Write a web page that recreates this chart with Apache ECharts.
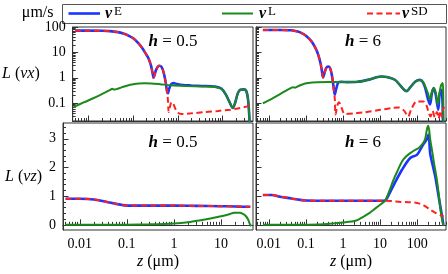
<!DOCTYPE html>
<html><head><meta charset="utf-8">
<script src="https://cdn.jsdelivr.net/npm/echarts@6/dist/echarts.min.js"></script>
<style>html,body{margin:0;padding:0;background:#fff}#c{width:448px;height:274px}</style>
</head><body><div id="c"></div>
<script>
// ---------- tick labels ----------
const xTicksLeft = [0.01, 0.1, 1, 10];
const xTicksRight = [0.01, 0.1, 1, 10, 100];
const yTicksTop = [0.1, 1, 10, 100];
const yTicksBottom = [0, 1, 2, 3];
const panelLabels = ['0.5', '6', '0.5', '6'];
const legendNames = ['E', 'L', 'SD'];

// ---------- top-left: L(vx), h = 0.5 ----------
const tl_z_E = [0.005,0.01,0.02,0.03,0.045,0.06,0.08,0.1,0.13,0.16,0.19,0.22,0.25,0.27,0.285,0.3,0.33,0.38,0.43,0.48,0.53,0.57,0.6,0.63,0.7,0.8,0.95,1.3,2,3.5,6.8,9.5,12,14,17,19,22,25,30,34,37,39,41];
const tl_E   = [72,72,71,69,63,55,45,36,23,14.5,9,5.8,3,1.6,1.0,1.3,2.2,3.0,2.7,1.6,0.7,0.3,0.25,0.35,0.55,0.62,0.57,0.52,0.5,0.48,0.45,0.37,0.21,0.12,0.065,0.1,0.25,0.34,0.35,0.3,0.15,0.05,0.01];
const tl_z_L = [0.0046,0.008,0.012,0.018,0.025,0.03,0.034,0.037,0.042,0.055,0.075,0.1,0.135,0.18,0.25,0.4,0.7,1.5,3.5,6.8,9.5,12,14,17,19,22,25,30,34,37,39,41];
const tl_L   = [0.071,0.11,0.15,0.21,0.28,0.33,0.37,0.345,0.36,0.42,0.5,0.56,0.6,0.61,0.6,0.56,0.51,0.48,0.46,0.44,0.37,0.21,0.12,0.065,0.1,0.25,0.34,0.35,0.3,0.15,0.05,0.01];
const tl_z_SD = [0.005,0.01,0.02,0.03,0.045,0.06,0.08,0.1,0.13,0.16,0.19,0.22,0.25,0.27,0.285,0.3,0.33,0.38,0.43,0.48,0.53,0.57,0.6,0.62,0.66,0.72,0.78,0.88,1.0,1.2,2,4,8,15,22,30,36,40];
const tl_SD   = [72,72,71,69,63,55,45,36,23,14.5,9,5.8,3,1.6,1.0,1.3,2.2,3.0,2.7,1.6,0.7,0.3,0.12,0.045,0.07,0.11,0.1,0.06,0.042,0.038,0.04,0.045,0.05,0.056,0.062,0.07,0.075,0.09];

// ---------- top-right: L(vx), h = 6 ----------
const tr_z_E = [0.0069,0.01,0.02,0.04,0.06,0.077,0.1,0.143,0.18,0.215,0.25,0.27,0.29,0.31,0.35,0.40,0.45,0.5,0.55,0.6,0.65,0.75,0.9,1.3,2.5,5,8,11,15,25,35,45,52,65,90,120,145,165,195,223,250,280,320,370,400,440,470,490,500];
const tr_E   = [76,76,76,74,66,57,45,26.5,15,8,3.5,1.8,1.03,1.4,2.4,2.8,2.4,1.3,0.5,0.22,0.35,0.66,0.69,0.68,0.7,0.85,1.05,1.12,1.08,0.84,0.5,0.33,0.3,0.42,0.72,0.83,0.65,0.4,0.15,0.09,0.25,0.40,0.2,0.056,0.2,0.34,0.25,0.05,0.01];
const tr_z_L = [0.0069,0.012,0.02,0.03,0.04,0.045,0.05,0.06,0.08,0.115,0.2,0.4,1,2.5,5,8,11,15,25,35,45,52,65,90,120,145,165,195,223,250,280,320,360,400,440,490,505,515];
const tr_L   = [0.10,0.15,0.23,0.32,0.40,0.43,0.41,0.46,0.55,0.62,0.67,0.69,0.68,0.7,0.85,1.05,1.12,1.08,0.84,0.5,0.33,0.3,0.42,0.72,0.83,0.7,0.46,0.25,0.14,0.28,0.40,0.25,0.088,0.25,0.5,0.62,0.2,0.01];
const tr_z_SD = [0.0069,0.01,0.02,0.04,0.06,0.077,0.1,0.143,0.18,0.215,0.25,0.27,0.29,0.31,0.35,0.40,0.45,0.5,0.55,0.6,0.63,0.7,0.78,0.9,1.13,2,3.9,10,21,32,45,57,70,98,148,180,200,230,260,300,340,380,420,460,500,550];
const tr_SD   = [76,76,76,74,66,57,45,26.5,15,8,3.5,1.8,1.03,1.4,2.4,2.8,2.4,1.3,0.5,0.15,0.036,0.08,0.11,0.07,0.038,0.04,0.044,0.055,0.065,0.068,0.05,0.03,0.06,0.118,0.118,0.08,0.048,0.03,0.05,0.028,0.045,0.025,0.05,0.03,0.06,0.07];

// ---------- bottom-left: L(vz), h = 0.5 ----------
const bl_z_E = [0.005,0.01,0.015,0.025,0.04,0.06,0.08,0.1,0.15,0.3,1,3,10,20,30,42];
const bl_E   = [0.91,0.91,0.9,0.86,0.79,0.73,0.69,0.67,0.67,0.67,0.67,0.66,0.65,0.64,0.63,0.63];
const bl_z_L = [0.005,0.03,0.1,0.3,1,2,3.5,6,9.5,15,19,25,30,34,38,40,42,44];
const bl_L   = [0,0.002,0.006,0.02,0.05,0.09,0.15,0.22,0.29,0.37,0.42,0.42,0.37,0.3,0.18,0.08,0.0,-0.05];
const bl_z_SD = [0.005,0.01,0.015,0.025,0.04,0.06,0.08,0.1,0.15,0.3,1,3,10,20,30,42];
const bl_SD   = [0.91,0.91,0.9,0.86,0.79,0.73,0.69,0.67,0.67,0.67,0.67,0.66,0.65,0.64,0.63,0.63];

// ---------- bottom-right: L(vz), h = 6 ----------
const br_z_E = [0.0069,0.012,0.02,0.04,0.07,0.1,0.3,1,5,10,13.6,18,25,39,65,100,145,180,203,224,260,307,380,470,510];
const br_E   = [1.04,1.04,0.98,0.92,0.87,0.85,0.84,0.84,0.84,0.84,0.85,1.1,1.46,1.92,2.33,2.45,2.8,2.97,3.15,2.5,2.1,1.69,0.99,0.29,0.0];
const br_z_L = [0.0069,0.03,0.1,0.3,1,2.3,3.5,5,6.6,10,13.6,18,23,30,39,50,65,85,110,140,165,185,200,224,250,290,340,380,415,460,510];
const br_L   = [0,0.002,0.005,0.02,0.08,0.15,0.28,0.4,0.52,0.7,0.84,1.2,1.57,1.9,2.21,2.38,2.5,2.6,2.68,2.82,3.0,3.35,3.45,3.0,2.62,2.1,1.57,1.1,0.64,0.25,-0.03];
const br_z_SD = [0.0069,0.012,0.02,0.04,0.07,0.1,0.3,1,5,10,13.6,20,36,60,100,150,230,330,480,520];
const br_SD   = [1.04,1.04,0.98,0.92,0.87,0.85,0.84,0.84,0.84,0.84,0.84,0.83,0.80,0.79,0.76,0.68,0.52,0.4,0.31,0.29];

// ---------- styling ----------
const FONT = 'Liberation Serif';
const AX = '#333';
const BLUE = '#1a35ff', GREEN = '#1b8a1b', RED = '#ff2020';
const RED_DASH = [6, 3.5];

const grids = [
  {left:63, top:27, width:190, height:94},
  {left:256, top:27, width:190, height:94},
  {left:63, top:123, width:190, height:107},
  {left:256, top:123, width:190, height:107}
];
const xRanges = [[0.0044,48],[0.0045,600],[0.0044,48],[0.0045,600]];
const yRanges = [[0.02,100],[0.02,100],[-0.18,3.55],[-0.18,3.55]];

function logMinors(min, max){
  const out = [];
  for (let e = -4; e <= 3; e++) for (let k = 2; k <= 9; k++) {
    const v = +(k * Math.pow(10, e)).toPrecision(3);
    if (v >= min && v <= max) out.push(v);
  }
  return out;
}
function linMinors(min, max){
  const out = [];
  for (let i = -5; i <= 20; i++) { const v = +(i/5).toFixed(2); if (i % 5 !== 0 && v >= min && v <= max) out.push(v); }
  return out;
}

const xAxis = [], yAxis = [];
const rich = {i:{fontStyle:'italic', fontFamily:FONT, fontSize:16, color:'#000'}, n:{fontFamily:FONT, fontSize:16, color:'#000'}};
grids.forEach((g, gi) => {
  const isBottom = gi >= 2, isLeft = gi % 2 === 0;
  const [x0, x1] = xRanges[gi], [y0, y1] = yRanges[gi];
  const xMaj = gi % 2 === 0 ? xTicksLeft : xTicksRight;
  xAxis.push({
    type:'log', gridIndex:gi, min:x0, max:x1, position:'bottom',
    axisLine:{show:true, lineStyle:{color:AX, width:1}},
    axisTick:{show:true, inside:true, length:5.5, customValues:xMaj, lineStyle:{color:AX, width:1}},
    axisLabel:{show:isBottom, customValues:xMaj, margin:7, fontFamily:FONT, fontSize:14, color:'#000', formatter:v => String(v)},
    splitLine:{show:false},
    name: isBottom ? '{i|z}{n| (μm)}' : '', nameLocation:'middle', nameGap:24,
    nameTextStyle:{rich, fontFamily:FONT, fontSize:16, color:'#000'}
  });
  xAxis.push({
    type:'log', gridIndex:gi, min:x0, max:x1, position:'bottom',
    axisLine:{show:false},
    axisTick:{show:true, inside:true, length:3, customValues:logMinors(x0, x1), lineStyle:{color:AX, width:1}},
    axisLabel:{show:false}, splitLine:{show:false}
  });
  const yType = isBottom ? 'value' : 'log';
  const yMaj = isBottom ? yTicksBottom : yTicksTop;
  const yMin = isBottom ? linMinors(y0, y1) : logMinors(y0, y1);
  yAxis.push({
    type:yType, gridIndex:gi, min:y0, max:y1, position:'left',
    axisLine:{show:true, lineStyle:{color:AX, width:1}},
    axisTick:{show:true, inside:true, length:5.5, customValues:yMaj, lineStyle:{color:AX, width:1}},
    axisLabel:{show:isLeft, customValues:yMaj, margin:7, fontFamily:FONT, fontSize:14, color:'#000', formatter:v => String(v)},
    splitLine:{show:false},
    name: isLeft ? (isBottom ? '{i|L}{n| (}{i|νz}{n|)}' : '{i|L}{n| (}{i|νx}{n|)}') : '',
    nameLocation:'middle', nameRotate:0, nameGap:21,
    nameTextStyle:{rich, fontFamily:FONT, fontSize:16, color:'#000'}
  });
  yAxis.push({
    type:yType, gridIndex:gi, min:y0, max:y1, position:'left',
    axisLine:{show:false},
    axisTick:{show:true, inside:true, length:3, customValues:yMin, lineStyle:{color:AX, width:1}},
    axisLabel:{show:false}, splitLine:{show:false}
  });
});

const pair = (zs, vs) => zs.map((z, i) => [z, vs[i]]);
const panels = [
  [tl_z_E, tl_E, tl_z_L, tl_L, tl_z_SD, tl_SD],
  [tr_z_E, tr_E, tr_z_L, tr_L, tr_z_SD, tr_SD],
  [bl_z_E, bl_E, bl_z_L, bl_L, bl_z_SD, bl_SD],
  [br_z_E, br_E, br_z_L, br_L, br_z_SD, br_SD]
];
const series = [];
panels.forEach((p, gi) => {
  const base = {type:'line', xAxisIndex:2*gi, yAxisIndex:2*gi, symbol:'none', smooth:0.3, clip:true, silent:true};
  series.push(Object.assign({}, base, {name:legendNames[0], data:pair(p[0], p[1]), lineStyle:{color:BLUE, width:2.6}, itemStyle:{color:BLUE}, z:2}));
  series.push(Object.assign({}, base, {name:legendNames[1], data:pair(p[2], p[3]), lineStyle:{color:GREEN, width:2}, itemStyle:{color:GREEN}, z:3}));
  series.push(Object.assign({}, base, {name:legendNames[2], data:pair(p[4], p[5]), lineStyle:{color:RED, width:2, type:RED_DASH}, itemStyle:{color:RED}, z:4}));
});

// legend drawn as graphic lines + rich text
const legRich = {
  nu:{fontFamily:FONT, fontSize:16, fontWeight:'bold', fontStyle:'italic', fill:'#000'},
  sup:{fontFamily:FONT, fontSize:13, fill:'#000', padding:[0,0,4,2]}
};
const legItems = [
  {x1:68.5, x2:100, tx:105, color:BLUE, width:2.6, dash:null},
  {x1:222, x2:253, tx:259, color:GREEN, width:2, dash:null},
  {x1:367, x2:400, tx:402, color:RED, width:2, dash:RED_DASH}
];
const legendGraphics = [];
legItems.forEach((it, i) => {
  legendGraphics.push({type:'line', z:10, shape:{x1:it.x1, y1:13.5, x2:it.x2, y2:13.5},
    style:{stroke:it.color, lineWidth:it.width, lineDash:it.dash}});
  legendGraphics.push({type:'text', x:it.tx, y:13.5, z:10,
    style:{text:'{nu|ν}{sup|' + legendNames[i] + '}', fontFamily:FONT, fontSize:16, fill:'#000',
      textAlign:'left', textVerticalAlign:'middle', rich:legRich}});
});

const annText = (x, y, t) => ({
  type:'text', x, y, z:10,
  style:{text:'{h|h}{n| = ' + t + '}', fill:'#000', textAlign:'center', textVerticalAlign:'middle',
    fontFamily:FONT, fontSize:17,
    rich:{h:{fontFamily:FONT, fontSize:17, fontStyle:'italic', fontWeight:'bold', fill:'#000'}, n:{fontFamily:FONT, fontSize:17, fill:'#000'}}}
});

const chart = echarts.init(document.getElementById('c'), null, {renderer:'canvas'});
chart.setOption({
  animation:false,
  backgroundColor:'#fff',
  grid: grids.map(g => Object.assign({show:true, borderColor:AX, borderWidth:1, containLabel:false}, g)),
  xAxis, yAxis, series,
  graphic:[
    {type:'rect', shape:{x:62.5, y:4.5, width:384, height:19}, style:{fill:'none', stroke:'#555', lineWidth:1}, z:0},
    {type:'text', x:53.5, y:13, style:{text:'μm/s', fontFamily:FONT, fontSize:16, fill:'#000', textAlign:'right', textVerticalAlign:'middle'}},
    ...legendGraphics,
    annText(173, 42, panelLabels[0]),
    annText(363, 42, panelLabels[1]),
    annText(173, 143, panelLabels[2]),
    annText(363, 143, panelLabels[3])
  ]
});
</script></body></html>
